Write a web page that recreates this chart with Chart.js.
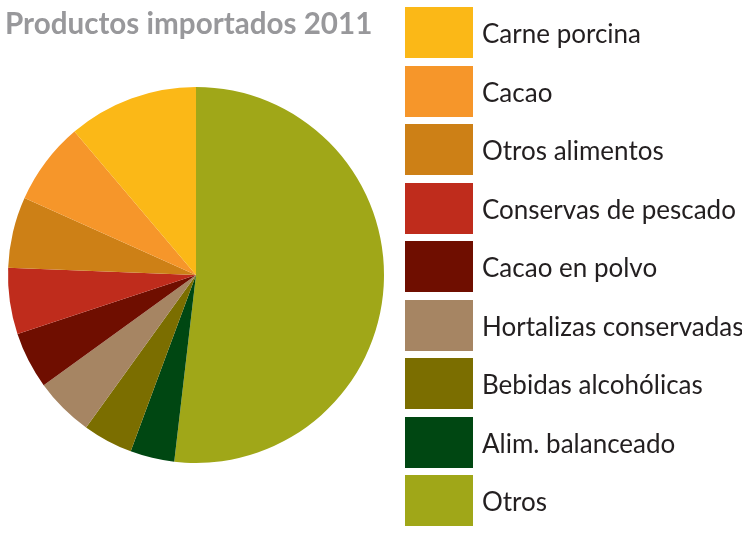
<!DOCTYPE html>
<html>
<head>
<meta charset="utf-8">
<script src="https://cdn.jsdelivr.net/npm/chart.js@4/dist/chart.umd.min.js"></script>
<style>
    body { margin: 0; background: #fff; }
    #wrap { position: relative; width: 742px; height: 547px; overflow: hidden; }
    #productosChart { position: absolute; left: 0; top: 0; }
    #titulo {
        position: absolute; left: 5px; top: 8px; margin: 0;
        font: bold 29.6px Lato, sans-serif; line-height: 1; color: #98989b;
        white-space: nowrap;
    }
    #leyenda { position: absolute; left: 405px; top: 7px; }
    .item { position: absolute; left: 0; height: 51px; white-space: nowrap; }
    .caja { position: absolute; left: 0; top: 0; width: 68px; height: 51px; }
    .texto {
        position: absolute; left: 77px; top: 1px;
        font: 26px Lato, sans-serif; line-height: 51px; color: #231f20;
    }
</style>
</head>
<body>
<div id="wrap">
    <canvas id="productosChart" width="742" height="547"></canvas>
    <h1 id="titulo">Productos importados 2011</h1>
    <div id="leyenda"></div>
</div>
<script>
// Datos (porcentaje aproximado), en el orden de la leyenda
const categorias = ['Carne porcina', 'Cacao', 'Otros alimentos', 'Conservas de pescado',
    'Cacao en polvo', 'Hortalizas conservadas', 'Bebidas alcohólicas', 'Alim. balanceado', 'Otros'];
const valores = [11.2, 7.1, 6.1, 5.7, 4.9, 5.1, 4.3, 3.8, 51.9];
const colores = ['#fbb817', '#f6962a', '#cd8016', '#bf2c1c', '#6f0e00',
    '#a68563', '#7b6e00', '#004712', '#a0a718'];

// El pastel va en sentido horario desde arriba empezando por "Otros"
const etiquetasPie = categorias.slice().reverse();
const valoresPie = valores.slice().reverse();
const coloresPie = colores.slice().reverse();

const ctx = document.getElementById('productosChart').getContext('2d');
new Chart(ctx, {
    type: 'pie',
    data: {
        labels: etiquetasPie,
        datasets: [{
            data: valoresPie,
            backgroundColor: coloresPie,
            borderWidth: 0
        }]
    },
    options: {
        responsive: false,
        animation: false,
        layout: {
            padding: { left: 8, top: 87, right: 358, bottom: 84 }
        },
        plugins: {
            legend: { display: false },
            tooltip: { enabled: false }
        }
    }
});

// Leyenda
const leyenda = document.getElementById('leyenda');
categorias.forEach(function (nombre, i) {
    const item = document.createElement('div');
    item.className = 'item';
    item.style.top = (i * 58.5) + 'px';
    const caja = document.createElement('div');
    caja.className = 'caja';
    caja.style.background = colores[i];
    const texto = document.createElement('div');
    texto.className = 'texto';
    texto.textContent = nombre;
    item.appendChild(caja);
    item.appendChild(texto);
    leyenda.appendChild(item);
});
</script>
</body>
</html>
